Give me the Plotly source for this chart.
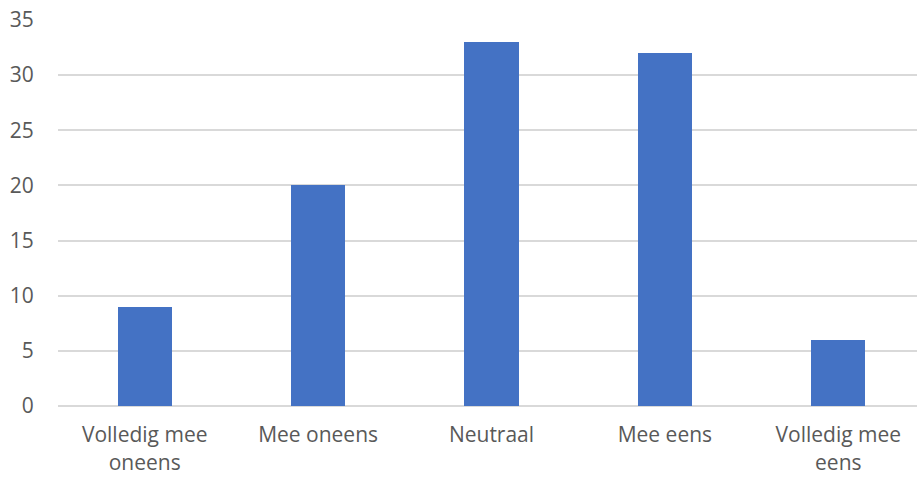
import plotly.graph_objects as go

categories = ["Volledig mee oneens", "Mee oneens", "Neutraal", "Mee eens", "Volledig mee eens"]
tick_labels = ["Volledig mee<br>oneens", "Mee oneens", "Neutraal", "Mee eens", "Volledig mee<br>eens"]
counts = [9, 20, 33, 32, 6]
y_ticks = [0, 5, 10, 15, 20, 25, 30, 35]

fig = go.Figure(
    go.Bar(
        x=categories,
        y=counts,
        width=0.313,
        marker=dict(color="#4472C4", line=dict(width=0)),
    )
)

font = dict(family="Open Sans, sans-serif", size=21, color="#595959")

fig.update_layout(
    width=917,
    height=479,
    margin=dict(l=58, r=0, t=20, b=73),
    paper_bgcolor="white",
    plot_bgcolor="white",
    showlegend=False,
    font=font,
    bargap=0,
)
fig.update_xaxes(
    range=[-0.5, 4.454],
    tickmode="array",
    tickvals=categories,
    ticktext=tick_labels,
    showgrid=False,
    showline=False,
    ticks="outside",
    ticklen=10,
    tickcolor="rgba(0,0,0,0)",
    tickfont=font,
)
fig.update_yaxes(
    range=[0, 35],
    tickmode="array",
    tickvals=y_ticks,
    showgrid=True,
    gridcolor="#D9D9D9",
    gridwidth=1.5,
    zeroline=True,
    zerolinecolor="#D9D9D9",
    zerolinewidth=1.5,
    showline=False,
    ticks="outside",
    ticklen=19,
    tickcolor="rgba(0,0,0,0)",
    tickfont=font,
)

fig.write_html("out.html")
